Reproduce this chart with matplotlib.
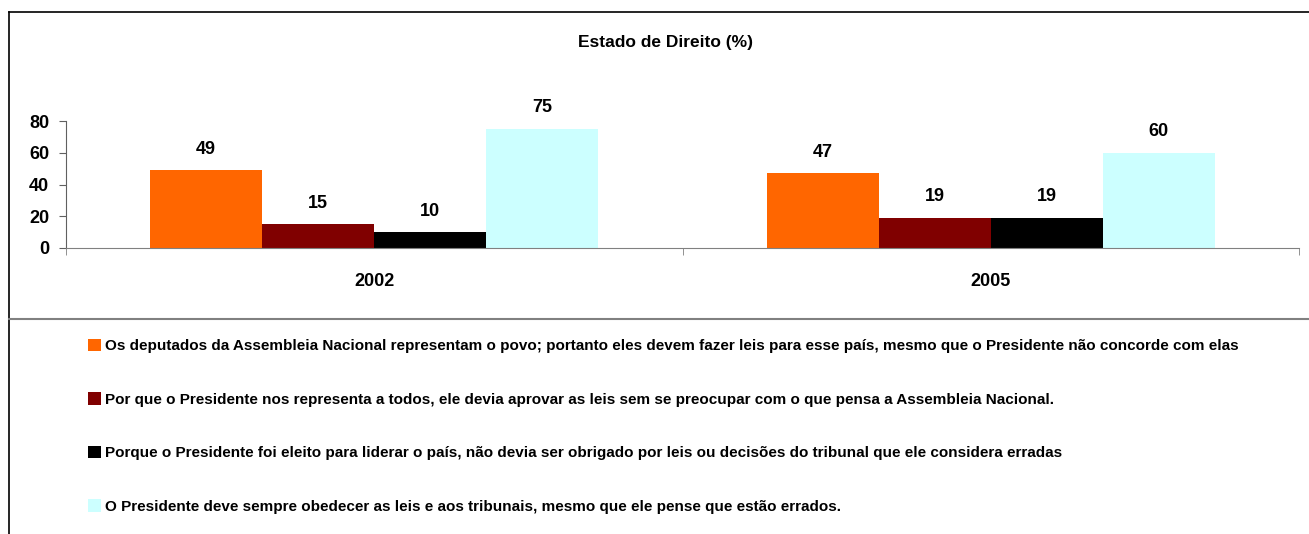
import matplotlib
matplotlib.use("Agg")
import matplotlib.pyplot as plt
from matplotlib.lines import Line2D
import numpy as np

# data
years = ["2002", "2005"]
deputados = [49, 47]
presidente_todos = [15, 19]
presidente_eleito = [10, 19]
obedecer_leis = [75, 60]

series_labels = [
    "Os deputados da Assembleia Nacional representam o povo; portanto eles devem fazer leis para esse país, mesmo que o Presidente não concorde com elas",
    "Por que o Presidente nos representa a todos, ele devia aprovar as leis sem se preocupar com o que pensa a Assembleia Nacional.",
    "Porque o Presidente foi eleito para liderar o país, não devia ser obrigado por leis ou decisões do tribunal que ele considera erradas",
    "O Presidente deve sempre obedecer as leis e aos tribunais, mesmo que ele pense que estão errados.",
]
colors = ["#FF6600", "#800000", "#000000", "#CCFFFF"]

plt.rcParams['font.family'] = ['Liberation Sans', 'DejaVu Sans']
plt.rcParams['font.weight'] = 'bold'
FS = 13
LEG_FS = 11

W, H = 1309, 534
fig = plt.figure(figsize=(W / 100, H / 100), dpi=100)

# axes placed in pixel coordinates of the reference
x0, x1, y_top, y_zero = 66, 1299, 121, 248
ax = fig.add_axes([x0 / W, 1 - y_zero / H, (x1 - x0) / W, (y_zero - y_top) / H])

all_series = [deputados, presidente_todos, presidente_eleito, obedecer_leis]
n = len(all_series)
width = 1 / (n + 1.5)
x = np.arange(len(years))
handles = []
for i, (vals, c, lab) in enumerate(zip(all_series, colors, series_labels)):
    offs = (i - (n - 1) / 2) * width
    bars = ax.bar(x + offs, vals, width, color=c, label=lab, linewidth=0)
    ax.bar_label(bars, padding=9, fontsize=FS, fontweight='bold', clip_on=False)
    handles.append(bars)

ax.set_xlim(-0.5, len(years) - 0.5)
ax.set_ylim(0, 80)
ax.set_yticks([0, 20, 40, 60, 80])
ax.set_xticks(x)
ax.set_xticklabels(years)
ax.set_xticks(np.arange(-0.5, len(years), 1.0), minor=True)
ax.tick_params(axis='x', which='major', length=0, pad=18, labelsize=FS)
ax.tick_params(axis='x', which='minor', length=5, direction='out', color='#808080')
ax.tick_params(axis='y', length=5, direction='out', pad=7, labelsize=FS, color='#606060')
for s in ['top', 'right']:
    ax.spines[s].set_visible(False)
ax.spines['bottom'].set_color('#808080')
ax.spines['left'].set_color('#606060')

fig.text(666 / W, 1 - 42 / H, "Estado de Direito (%)", ha='center', va='center',
         fontsize=12.5, fontweight='bold')

# frame lines
fig.add_artist(Line2D([8.5 / W, 8.5 / W], [0, 1 - 11.5 / H], color='black', lw=1.2))
fig.add_artist(Line2D([8.5 / W, 1], [1 - 11.5 / H, 1 - 11.5 / H], color='black', lw=1.2))
fig.add_artist(Line2D([8.5 / W, 1], [1 - 318.5 / H, 1 - 318.5 / H], color='#808080', lw=1.5))

fig.legend(handles=handles, labels=series_labels, loc='upper left',
           bbox_to_anchor=(88 / W, 1 - 339 / H), frameon=False, borderpad=0,
           borderaxespad=0, handlelength=0.85, handleheight=0.85,
           handletextpad=0.26, labelspacing=2.56, prop={'weight': 'bold', 'size': LEG_FS})

fig.savefig("out.png", dpi=100)
